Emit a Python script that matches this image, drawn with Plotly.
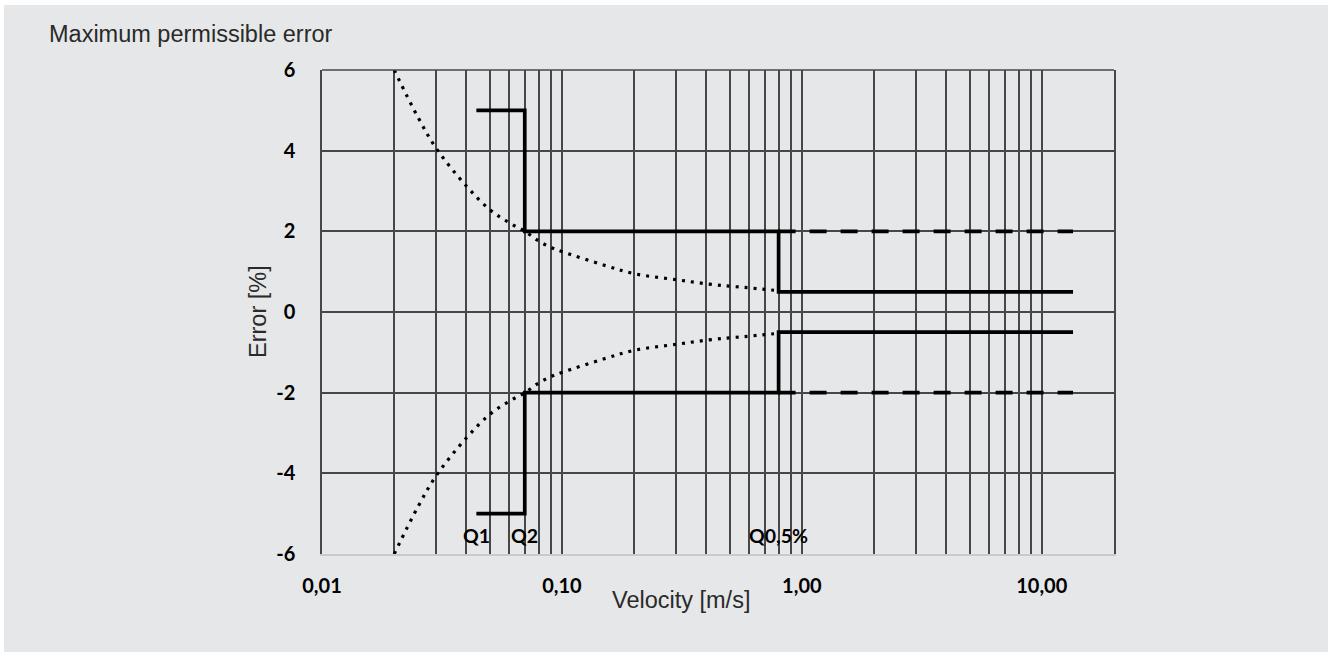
import math
import plotly.graph_objects as go

# ---------------- data ----------------
curve_v = [0.02, 0.025, 0.03, 0.04, 0.05, 0.06, 0.07, 0.08, 0.09, 0.10,
           0.15, 0.20, 0.30, 0.40, 0.50, 0.60, 0.70, 0.80]
curve_upper = [6.0, 4.85, 4.05, 3.12, 2.54, 2.22, 2.0, 1.76, 1.60, 1.50,
               1.16, 0.95, 0.80, 0.70, 0.64, 0.60, 0.56, 0.53]
curve_lower = [-6.0, -4.85, -4.05, -3.12, -2.54, -2.22, -2.0, -1.76, -1.60, -1.50,
               -1.16, -0.95, -0.80, -0.70, -0.64, -0.60, -0.56, -0.53]

step_v = [0.044, 0.07, 0.07, 0.8, 0.8, 13.5]
step_upper = [5, 5, 2, 2, 0.5, 0.5]
step_lower = [-5, -5, -2, -2, -0.5, -0.5]

dash_v = [0.8, 13.5]
dash_upper = [2, 2]
dash_lower = [-2, -2]

q_names = ["Q1", "Q2", "Q0,5%"]
q_values = [0.044, 0.07, 0.8]

x_decades = [0.01, 0.1, 1, 10]
x_decade_labels = ["0,01", "0,10", "1,00", "10,00"]
y_ticks = [6, 4, 2, 0, -2, -4, -6]
y_tick_labels = ["6", "4", "2", "0", "-2", "-4", "-6"]

title_text = "Maximum permissible error"
x_title = "Velocity [m/s]"
y_title = "Error [%]"

# ---------------- styling ----------------
BG = "#e6e7e8"
GRID = "#474747"
INK = "#000000"
TXT = "#2a2a2a"
BOLD_FONT = "Lato"
REG_FONT = "Liberation Sans"

# pixel geometry of the plot area (for paper conversions)
W, H = 1328, 652
L, R, T, B = 322, 1114, 70, 554
PW, PH = R - L, B - T


def px(xp):
    return (xp - L) / PW


def py(yp):
    return (B - yp) / PH


# x tick values: every 1..9 multiple inside range, labels only at decades
tickvals, ticktext = [], []
for d, lab in zip(x_decades, x_decade_labels):
    for k in range(1, 10):
        v = k * d
        if v <= 20:
            tickvals.append(v)
            ticktext.append(lab if k == 1 else "")

fig = go.Figure()

line_solid = dict(color=INK, width=3.7)
line_dash = dict(color=INK, width=3.7, dash="17px,14px")
line_dot = dict(color=INK, width=3.2, dash="3px,6px", shape="spline", smoothing=1)

fig.add_trace(go.Scatter(x=curve_v, y=curve_upper, mode="lines", line=line_dot, hoverinfo="skip"))
fig.add_trace(go.Scatter(x=curve_v, y=curve_lower, mode="lines", line=line_dot, hoverinfo="skip"))
fig.add_trace(go.Scatter(x=dash_v, y=dash_upper, mode="lines", line=line_dash, hoverinfo="skip"))
fig.add_trace(go.Scatter(x=dash_v, y=dash_lower, mode="lines", line=line_dash, hoverinfo="skip"))
fig.add_trace(go.Scatter(x=step_v, y=step_upper, mode="lines", line=line_solid, hoverinfo="skip"))
fig.add_trace(go.Scatter(x=step_v, y=step_lower, mode="lines", line=line_solid, hoverinfo="skip"))

annotations = []
for name, v in zip(q_names, q_values):
    annotations.append(dict(x=math.log10(v), y=-5.55, xref="x", yref="y", text=name, showarrow=False,
                            xanchor="center", yanchor="middle",
                            font=dict(family=BOLD_FONT, size=19.5, color=INK, weight="bold")))
annotations.append(dict(x=px(47), y=py(34), xref="paper", yref="paper", text=title_text,
                        showarrow=False, xanchor="left", yanchor="middle",
                        font=dict(family=REG_FONT, size=23.5, color=TXT)))
annotations.append(dict(x=px(681), y=py(600), xref="paper", yref="paper", text=x_title,
                        showarrow=False, xanchor="center", yanchor="middle",
                        font=dict(family=REG_FONT, size=23.5, color=TXT)))
annotations.append(dict(x=px(258), y=py(312), xref="paper", yref="paper", text=y_title,
                        showarrow=False, xanchor="center", yanchor="middle", textangle=-90,
                        font=dict(family=REG_FONT, size=23.5, color=TXT)))

shapes = [
    # thin white frame at the top and left of the grey panel
    dict(type="rect", xref="paper", yref="paper", x0=px(-5), x1=px(4), y0=py(H + 5), y1=py(-5),
         fillcolor="white", line=dict(width=0), layer="below"),
    dict(type="rect", xref="paper", yref="paper", x0=px(-5), x1=px(W + 5), y0=py(5), y1=py(-5),
         fillcolor="white", line=dict(width=0), layer="below"),
    # top border of the plot box
    dict(type="line", xref="paper", yref="paper", x0=0, x1=1, y0=1, y1=1,
         line=dict(color=GRID, width=1.5), layer="above"),
]

fig.update_layout(
    width=W, height=H,
    margin=dict(l=L, r=W - R, t=T, b=H - B, pad=0),
    paper_bgcolor=BG,
    plot_bgcolor=BG,
    showlegend=False,
    annotations=annotations,
    shapes=shapes,
    xaxis=dict(
        type="log", range=[-2, 1.30103],
        tickmode="array", tickvals=tickvals, ticktext=ticktext,
        showgrid=True, gridcolor=GRID, gridwidth=1.5,
        showline=True, linecolor="#c9c9c9", linewidth=2, mirror=False,
        ticks="", ticklabelstandoff=13,
        tickfont=dict(family=BOLD_FONT, size=20, color=INK, weight="bold"),
        zeroline=False, fixedrange=True,
    ),
    yaxis=dict(
        range=[-6, 6],
        tickmode="array", tickvals=y_ticks, ticktext=y_tick_labels,
        showgrid=True, gridcolor=GRID, gridwidth=1.5,
        showline=True, linecolor=GRID, linewidth=1.5, mirror=True,
        ticks="", ticklabelstandoff=21,
        tickfont=dict(family=BOLD_FONT, size=20, color=INK, weight="bold"),
        zeroline=False, fixedrange=True,
    ),
)

fig.write_html("out.html", config={"displayModeBar": False},
               post_script="document.body.style.margin='0';document.body.style.overflow='hidden';")
